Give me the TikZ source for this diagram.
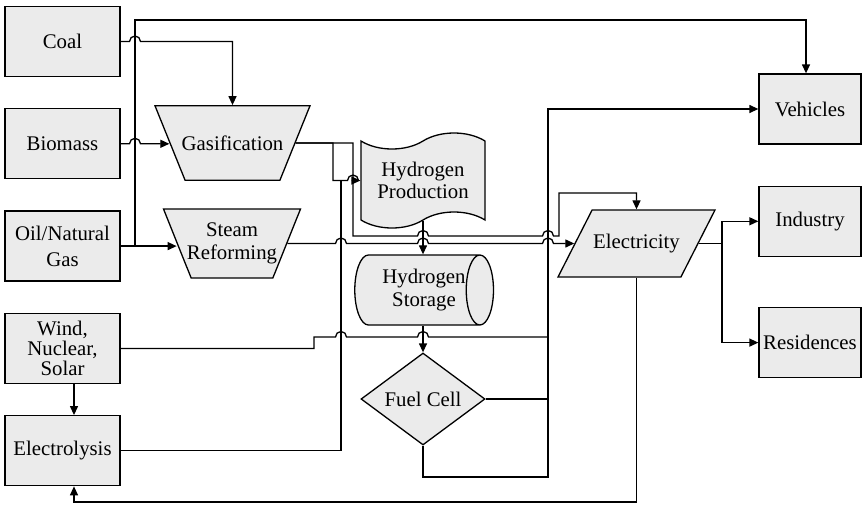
\documentclass[tikz,border=0pt]{standalone}
\usepackage{fontspec}
\setmainfont{Liberation Serif}
\usepackage{xcolor}
\usepackage{tikz}
\usetikzlibrary{calc, shapes.geometric, shapes.symbols, arrows.meta, positioning}
\definecolor{boxgray}{RGB}{235,235,235}

\begin{document}
\begin{tikzpicture}[
        x=0.5pt, y=-0.5pt,
        node distance = 15.5pt,
        every node/.style = {font=\fontsize{10.4pt}{10pt}\selectfont},
        box/.style = {draw, fill=boxgray, line width=0.65pt, align=center, inner sep=1pt},
        source/.style = {box, rectangle, minimum width=57.5pt, minimum height=35pt},
        sink/.style = {box, rectangle, minimum width=51pt, minimum height=35pt},
        reactor/.style = {box, trapezium, shape border rotate=180, trapezium left angle=68, trapezium right angle=68, trapezium stretches body, inner xsep=-5pt},
        prodbox/.style = {box, tape, tape bend height=8pt, minimum width=62pt, minimum height=47.5pt},
        storebox/.style = {box, cylinder, shape aspect=0.65, inner sep=0pt, minimum width=35pt, minimum height=66pt},
        cellbox/.style = {box, diamond, aspect=1.35, inner sep=0pt, minimum width=62pt, minimum height=46pt},
        powerbox/.style = {box, trapezium, trapezium left angle=63, trapezium right angle=117, trapezium stretches body, inner xsep=0pt, inner ysep=12pt, minimum width=78.5pt, minimum height=33.5pt},
        wire/.style = {draw, line width=0.65pt},
        arrow/.style = {wire, -{Triangle[length=4.5pt, width=4pt]}}
    ]
        \useasboundingbox (0,0) rectangle (862,504);

        % === Sources ===
        \node (coal) [source] at (62.5,41.5) {Coal};
        \node (bio) [source, below=of coal] {Biomass};
        \node (oil) [source, below=of bio] {Oil/Natural\\[3pt]Gas};
        \node (wind) [source, below=of oil] {Wind,\\Nuclear,\\Solar};
        \node (elys) [source, below=of wind] {Electrolysis};

        % === Conversion ===
        \node (gas) [reactor, inner ysep=14.9pt, minimum width=77.5pt, minimum height=37pt] at (232.5,143) {Gasification};
        \node (steam) [reactor, inner ysep=6.8pt, minimum width=68.5pt, minimum height=34.5pt] at (232,243.5) {Steam\\[1.5pt]Reforming};
        \node (hprod) [prodbox] at (423,180.5) {Hydrogen\\[1pt]Production};
        \node (hstore) [storebox] at (417,290) {\hspace*{7pt}Hydrogen\\[1.5pt]\hspace*{7pt}Storage};
        \node (fcell) [cellbox] at (423,399) {Fuel Cell};
        \node (elec) [powerbox] at (636.5,243.5) {Electricity};

        % === Users ===
        \node (veh) [sink] at (810,109) {Vehicles};
        \node (ind) [sink, below=20.5pt of veh] {Industry};
        \node (res) [sink, below=25pt of ind] {Residences};

        % routing points
        \coordinate (trunk) at (135,20);
        \coordinate (colA) at (333,0);
        \coordinate (colB) at (341,0);
        \coordinate (colC) at (353,0);
        \coordinate (colD) at (548,0);
        \coordinate (colE) at (559,0);
        \coordinate (colF) at (722,0);
        \coordinate (stepX) at (314,0);
        \coordinate (elysx) at (74,0);
        \coordinate (rowT) at (0,193);
        \coordinate (rowG) at (0,236);
        \coordinate (rowW) at (0,337);
        \coordinate (rowF) at (0,477);
        \coordinate (botY) at (0,502);

        % === Arrows ===
        % Fossil feeds
        \draw [arrow] (oil.east) -- (oil.east -| steam.west);
        \draw [arrow] (trunk |- oil.east) -- (trunk) -| ($(veh.north)+(-2pt,0pt)$);
        \draw [arrow] (coal.east) -- ($(trunk |- coal.east)+(-2.75pt,0pt)$) arc[start angle=180, end angle=0, radius=2.75pt] -| (gas.north);
        \draw [arrow] (bio.east) -- ($(trunk |- bio.east)+(-2.75pt,0pt)$) arc[start angle=180, end angle=0, radius=2.75pt] -- (bio.east -| gas.west);

        % Gasification and reforming
        \draw [arrow] (gas.east) -- (colA |- gas.east) |- ($(colC |- hprod.west)+(-2.75pt,0pt)$) arc[start angle=180, end angle=0, radius=2.75pt] -- (hprod.west);
        \draw [arrow] (gas.east) -| (colC |- rowG) -- ($(hprod.south |- rowG)+(-2.75pt,0pt)$) arc[start angle=180, end angle=0, radius=2.75pt] -- ($(colD |- rowG)+(-2.75pt,0pt)$) arc[start angle=180, end angle=0, radius=2.75pt] -- (colE |- rowG) |- (rowT -| elec.north) -- (elec.north);
        \draw [arrow] (steam.east) -- ($(colB |- steam.east)+(-2.75pt,0pt)$) arc[start angle=180, end angle=0, radius=2.75pt] -- ($(hprod.south |- steam.east)+(-2.75pt,0pt)$) arc[start angle=180, end angle=0, radius=2.75pt] -- ($(colD |- steam.east)+(-2.75pt,0pt)$) arc[start angle=180, end angle=0, radius=2.75pt] -- (steam.east -| elec.west);

        % Electrolysis and renewables
        \draw [wire] (elys.east) -| (colB |- hprod.west);
        \draw [wire] (wind.east) -- (stepX |- wind.east) -- (stepX |- rowW) -- ($(colB |- rowW)+(-2.75pt,0pt)$) arc[start angle=180, end angle=0, radius=2.75pt] -- ($(fcell.north |- rowW)+(-2.75pt,0pt)$) arc[start angle=180, end angle=0, radius=2.75pt] -- (colD |- rowW);
        \draw [arrow] (elysx |- wind.south) -- (elysx |- elys.north);

        % Hydrogen chain
        \draw [arrow] (hprod.south) -- (hprod.south |- hstore.north);
        \draw [arrow] (fcell.north |- hstore.south) -- (fcell.north);
        \draw [wire] (fcell.east) -- (colD |- fcell.east);
        \draw [arrow] (fcell.south) |- (colD |- rowF) -- (colD |- veh.west) -- (veh.west);

        % Electricity users
        \draw [arrow] (elec.east) -- (colF |- elec.east) |- (ind.west);
        \draw [arrow] (colF |- elec.east) |- (res.west);
        \draw [arrow] (elec.south) |- (elysx |- botY) -- (elysx |- elys.south);

    \end{tikzpicture}
\end{document}
